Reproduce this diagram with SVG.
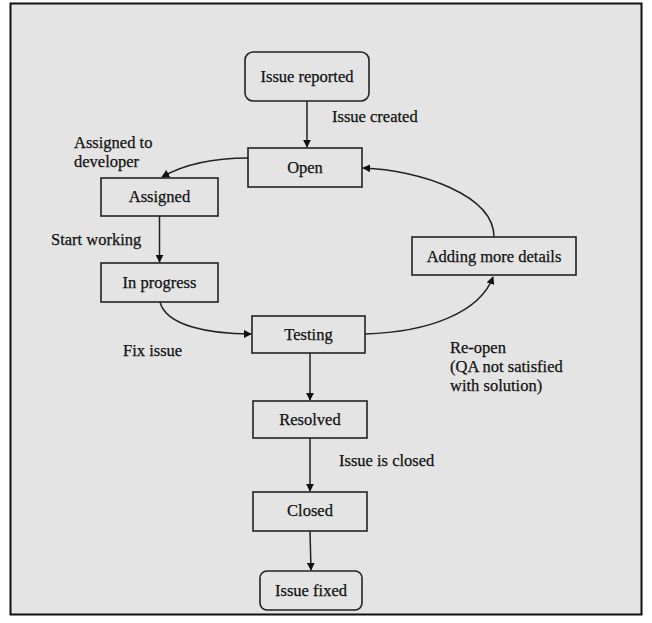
<svg xmlns="http://www.w3.org/2000/svg" width="652" height="623" viewBox="0 0 652 623">
<defs>
<style>
.box{fill:#e4e4e4;stroke:#222;stroke-width:1.6}
.t{font-family:"Liberation Serif","Times New Roman",serif;font-size:16.5px;fill:#111;stroke:#111;stroke-width:0.25}
.c{text-anchor:middle}
.e{fill:none;stroke:#222;stroke-width:1.5}
</style>
<marker id="ah" viewBox="0 0 10 10" refX="9" refY="5" markerWidth="8" markerHeight="8" markerUnits="userSpaceOnUse" orient="auto">
<path d="M0,0 L10,5 L0,10 z" fill="#111"/>
</marker>
</defs>
<rect x="0" y="0" width="652" height="623" fill="#fff"/>
<rect x="10.5" y="3.5" width="631" height="611" fill="#e4e4e4" stroke="#111" stroke-width="2"/>
<g id="connectors">
<path class="e" d="M307,101 L307,147" marker-end="url(#ah)"/>
<path class="e" d="M248,158 Q195,158 162,177" marker-end="url(#ah)"/>
<path class="e" d="M159.5,216 L159.5,262" marker-end="url(#ah)"/>
<path class="e" d="M160,302 C166,326 210,334 251,334" marker-end="url(#ah)"/>
<path class="e" d="M365,334 C430,332 480,312 493,277" marker-end="url(#ah)"/>
<path class="e" d="M494,237 C494,195 420,170 363,168" marker-end="url(#ah)"/>
<path class="e" d="M310,353 L310,400" marker-end="url(#ah)"/>
<path class="e" d="M310,438 L310,491" marker-end="url(#ah)"/>
<path class="e" d="M310,531 L311,570" marker-end="url(#ah)"/>
<text class="t" x="332" y="122">Issue created</text>
<text class="t" x="74" y="148">Assigned to</text>
<text class="t" x="74" y="167">developer</text>
<text class="t" x="51" y="245">Start working</text>
<text class="t" x="123" y="356">Fix issue</text>
<text class="t" x="450" y="353">Re-open</text>
<text class="t" x="450" y="372">(QA not satisfied</text>
<text class="t" x="450" y="391">with solution)</text>
<text class="t" x="339" y="466">Issue is closed</text>
</g>
<g id="issue-reported"><rect class="box" x="245" y="52" width="124" height="49" rx="8"/><text class="t c" x="307" y="82">Issue reported</text></g>
<g id="open"><rect class="box" x="248" y="148" width="114" height="39"/><text class="t c" x="305" y="173">Open</text></g>
<g id="assigned"><rect class="box" x="101" y="178" width="117" height="38"/><text class="t c" x="159.5" y="202">Assigned</text></g>
<g id="in-progress"><rect class="box" x="101" y="263" width="117" height="39"/><text class="t c" x="159.5" y="288">In progress</text></g>
<g id="adding-more-details"><rect class="box" x="412" y="237" width="164" height="38"/><text class="t c" x="494" y="262">Adding more details</text></g>
<g id="testing"><rect class="box" x="252" y="316" width="113" height="37"/><text class="t c" x="308.5" y="340">Testing</text></g>
<g id="resolved"><rect class="box" x="253" y="401" width="114" height="37"/><text class="t c" x="310" y="425">Resolved</text></g>
<g id="closed"><rect class="box" x="253" y="492" width="114" height="39"/><text class="t c" x="310" y="516">Closed</text></g>
<g id="issue-fixed"><rect class="box" x="260" y="571" width="102" height="39" rx="7"/><text class="t c" x="311" y="596">Issue fixed</text></g>
</svg>
